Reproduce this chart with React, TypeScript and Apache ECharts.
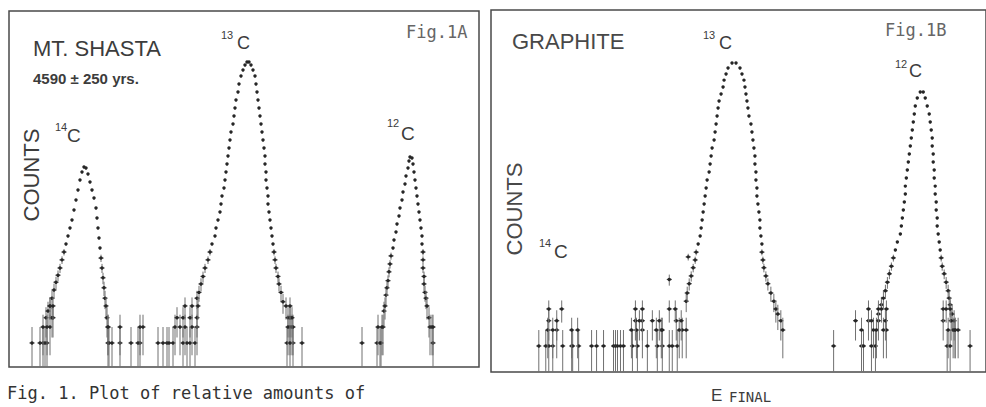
import React, { useEffect, useRef } from "react";
import * as echarts from "echarts";

// Fig. 1A  (MT. SHASTA) : [channel, counts]
const shastaC14: number[][] = [
  [37, 3], [39, 4], [41, 5], [43, 7], [45, 10], [47, 14], [49, 19], [51, 26], [53, 37], [55, 52],
  [57, 74], [59, 104], [61, 148], [63, 209], [65, 323], [67, 499], [69, 771], [71, 1190], [73, 1680], [75, 2090],
  [77, 2000], [79, 1550], [81, 1090], [83, 771], [85, 545], [87, 352], [88, 228], [89, 148], [90, 96], [91, 62],
  [92, 40], [93, 26], [94, 17], [95, 11], [96, 7], [97, 5], [98, 3], [99, 2], [100, 1],
];
const shastaC13: number[][] = [
  [188, 7], [190, 9], [192, 13], [194, 18], [196, 26], [199, 37], [201, 52], [203, 74], [206, 104], [207, 148],
  [209, 209], [211, 296], [212, 420], [213, 594], [215, 841], [216, 1190], [217, 1680], [218, 2380], [219, 3380], [220, 4780],
  [221, 6770], [222, 9570], [224, 13600], [225, 19200], [226, 27200], [227, 38500], [229, 54500], [230, 77100], [232, 109000], [234, 142000],
  [236, 176000], [238, 200000],
  [240, 200000], [242, 176000], [244, 142000], [246, 109000], [247, 77100], [248, 54500], [249, 38500], [250, 27200], [251, 19200], [252, 13600],
  [253, 9570], [254, 6770], [255, 4780], [256, 3380], [256, 2380], [257, 1680], [257, 1190], [258, 841], [259, 594], [259, 420],
  [260, 296], [261, 209], [262, 148], [263, 104], [264, 74], [265, 52], [266, 37], [267, 26], [269, 18], [270, 13],
  [272, 9], [274, 6], [277, 5], [279, 3], [281, 2],
];
const shastaC12: number[][] = [
  [372, 1], [374, 2], [375, 4], [376, 5], [377, 8], [378, 11], [379, 15], [380, 22], [381, 31], [382, 44],
  [384, 62], [385, 88], [387, 124], [388, 176], [390, 249], [391, 352], [393, 499], [394, 706], [396, 1000], [397, 1420],
  [399, 2000], [400, 2720], [401, 3240],
  [403, 3100], [404, 2380], [405, 1680], [406, 1190], [407, 841], [408, 594], [409, 420], [410, 296], [411, 209], [412, 148],
  [413, 104], [413, 74], [414, 52], [414, 37], [414, 26], [415, 18], [415, 13], [416, 9], [417, 7], [418, 5],
  [420, 3], [421, 2], [423, 2],
];
const shastaLow: number[][] = [
  [23, 1], [31, 1], [34, 1], [36, 1], [38, 1], [99, 1], [103, 1], [111, 1], [122, 1], [129, 1], [131, 1],
  [149, 1], [154, 1], [158, 1], [160, 1], [164, 1], [174, 1], [178, 1], [181, 1], [186, 1],
  [278, 1], [281, 1], [284, 1], [293, 1], [353, 1], [368, 1], [371, 1], [424, 1],
  [34, 2], [38, 2], [41, 2], [99, 2], [111, 2], [131, 2], [134, 2], [166, 2], [171, 2], [176, 2], [183, 2], [188, 2],
  [279, 2], [283, 2], [284, 2], [369, 2], [373, 2], [424, 2],
  [43, 3], [44, 3], [168, 3], [174, 3], [181, 3], [188, 3], [281, 3], [283, 3],
  [41, 5], [44, 5], [176, 5], [183, 5], [189, 5], [281, 5],
];

// Fig. 1B  (GRAPHITE) : [channel, counts]
const graphiteC13: number[][] = [
  [196, 7], [197, 10], [199, 15], [201, 21], [203, 30], [205, 42], [206, 59], [208, 84], [210, 119], [211, 168],
  [212, 238], [213, 338], [214, 478], [215, 677], [216, 958], [217, 1360], [219, 1920], [220, 2720], [221, 3850], [222, 5450],
  [224, 7710], [225, 10900], [226, 15400], [227, 21900], [228, 31000], [229, 42000], [231, 56900], [233, 77100], [234, 104000], [236, 136000],
  [238, 176000], [242, 219000],
  [246, 219000], [250, 176000], [252, 136000], [254, 104000], [255, 77100], [256, 56900], [257, 42000], [258, 31000], [259, 21900], [261, 15400],
  [262, 10900], [263, 7710], [264, 5450], [265, 3850], [265, 2720], [266, 1920], [266, 1360], [267, 958], [267, 677], [268, 478],
  [269, 338], [270, 238], [270, 168], [271, 119], [272, 84], [272, 59], [273, 42], [274, 30], [276, 21], [278, 15],
  [281, 10], [284, 7], [286, 5], [288, 4], [291, 3], [293, 2],
];
const graphiteC12: number[][] = [
  [389, 4], [392, 6], [394, 8], [396, 11], [398, 16], [400, 23], [402, 32], [404, 46], [406, 65], [408, 92],
  [411, 130], [412, 184], [413, 260], [414, 368], [415, 521], [416, 738], [416, 1040], [417, 1480], [418, 2090], [419, 2960],
  [420, 4200], [421, 5940], [422, 8400], [423, 11900], [424, 16800], [425, 23900], [426, 33800], [428, 47800], [431, 62000],
  [434, 62000], [436, 47800], [438, 33800], [440, 23900], [441, 16800], [442, 11900], [443, 8400], [443, 5940], [444, 4200], [444, 2960],
  [445, 2090], [445, 1480], [446, 1040], [446, 738], [447, 521], [447, 368], [448, 260], [448, 184], [449, 130], [450, 92],
  [451, 65], [452, 46], [453, 32], [455, 23], [457, 16], [459, 11], [460, 8], [461, 6], [463, 4], [465, 3], [466, 2],
];
const graphiteLow: number[][] = [
  [48, 1], [55, 1], [58, 1], [62, 1], [72, 1], [81, 1], [82, 1], [88, 1], [101, 1], [106, 1], [113, 1], [123, 1],
  [125, 1], [127, 1], [130, 1], [133, 1], [142, 1], [147, 1], [157, 1], [167, 1], [172, 1], [179, 1], [182, 1], [187, 1],
  [344, 1], [372, 1], [374, 1], [382, 1], [386, 1], [458, 1], [461, 1], [481, 1],
  [57, 2], [62, 2], [66, 2], [81, 2], [87, 2], [141, 2], [146, 2], [152, 2], [166, 2], [171, 2], [172, 2], [189, 2],
  [192, 2], [196, 2], [372, 2], [384, 2], [387, 2], [394, 2], [397, 2], [459, 2], [464, 2], [466, 2], [469, 2],
  [58, 3], [66, 3], [145, 3], [149, 3], [152, 3], [162, 3], [169, 3], [186, 3], [191, 3], [366, 3], [379, 3], [382, 3],
  [389, 3], [396, 3], [454, 3], [462, 3],
  [58, 5], [71, 5], [145, 5], [152, 5], [179, 5], [185, 5], [379, 5], [389, 5], [392, 5], [397, 5], [454, 5], [457, 5], [461, 5],
  [179, 18], [198, 48],
];

const yMinA = 0.352;
const yMaxA = 1.84e6;
const yMinB = 0.323;
const yMaxB = 2.19e6;

function pointSeries(data: number[][], idx: number, yMin: number) {
  return {
    type: "custom",
    xAxisIndex: idx,
    yAxisIndex: idx,
    data,
    silent: true,
    clip: true,
    encode: { x: 0, y: 1 },
    renderItem: (_params: any, api: any) => {
      const x = api.value(0);
      const n = api.value(1);
      const c = api.coord([x, n]);
      const s = Math.sqrt(n);
      const lo = api.coord([x, Math.max(n - s, yMin)]);
      const hi = api.coord([x, n + s]);
      const children: any[] = [];
      if (n < 60) {
        children.push({
          type: "line",
          shape: { x1: c[0], y1: lo[1], x2: c[0], y2: hi[1] },
          style: { stroke: "#707070", lineWidth: 1 },
        });
        children.push({
          type: "line",
          shape: { x1: c[0] - 2.5, y1: c[1], x2: c[0] + 2.5, y2: c[1] },
          style: { stroke: "#3a3a3a", lineWidth: 1.2 },
        });
      }
      children.push({
        type: "circle",
        shape: { cx: c[0], cy: c[1], r: 1.7 },
        style: { fill: "#262626" },
      });
      return { type: "group", children };
    },
  };
}

const SANS = "'Liberation Sans', Arial, sans-serif";
const MONO = "'DejaVu Sans Mono', 'Liberation Mono', monospace";

function txt(text: string, x: number, y: number, font: string, fill: string, align = "left", rotation = 0) {
  return {
    type: "text",
    x,
    y,
    rotation,
    silent: true,
    style: {
      text,
      font,
      fill,
      align,
      textAlign: align,
      verticalAlign: "middle",
      textVerticalAlign: "middle",
    },
  };
}

export default function App() {
  const ref = useRef<HTMLDivElement>(null);
  useEffect(() => {
    document.body.style.margin = "0";
    const chart = echarts.init(ref.current!, null, { renderer: "svg" });
    chart.setOption({
      animation: false,
      backgroundColor: "#ffffff",
      grid: [
        { left: 9, top: 11, width: 470, height: 356, show: true, borderColor: "#4a4a4a", borderWidth: 1.5, backgroundColor: "transparent" },
        { left: 491, top: 10, width: 497, height: 362, show: true, borderColor: "#4a4a4a", borderWidth: 1.5, backgroundColor: "transparent" },
      ],
      xAxis: [
        { gridIndex: 0, type: "value", min: 0, max: 470, show: false },
        { gridIndex: 1, type: "value", min: 0, max: 497, show: false },
      ],
      yAxis: [
        { gridIndex: 0, type: "log", logBase: 10, min: yMinA, max: yMaxA, show: false },
        { gridIndex: 1, type: "log", logBase: 10, min: yMinB, max: yMaxB, show: false },
      ],
      series: [
        pointSeries(shastaC14, 0, yMinA),
        pointSeries(shastaC13, 0, yMinA),
        pointSeries(shastaC12, 0, yMinA),
        pointSeries(shastaLow, 0, yMinA),
        pointSeries(graphiteC13, 1, yMinB),
        pointSeries(graphiteC12, 1, yMinB),
        pointSeries(graphiteLow, 1, yMinB),
      ],
      graphic: [
        // Panel A
        txt("MT. SHASTA", 33, 48, `22px ${SANS}`, "#3c3c3c"),
        txt("4590 ± 250 yrs.", 33, 78, `bold 15px ${SANS}`, "#3c3c3c"),
        txt("Fig.1A", 406, 32, `17px ${MONO}`, "#666666"),
        txt("13", 221, 35, `11px ${SANS}`, "#3c3c3c"),
        txt("C", 237, 43, `18px ${SANS}`, "#3c3c3c"),
        txt("14", 55, 127, `11px ${SANS}`, "#3c3c3c"),
        txt("C", 67, 135, `19px ${SANS}`, "#3c3c3c"),
        txt("12", 387, 123, `11px ${SANS}`, "#3c3c3c"),
        txt("C", 401, 133, `19px ${SANS}`, "#3c3c3c"),
        txt("COUNTS", 31, 175, `22px ${SANS}`, "#3c3c3c", "center", Math.PI / 2),
        // Panel B
        txt("GRAPHITE", 512, 41, `22px ${SANS}`, "#484848"),
        txt("Fig.1B", 885, 30, `17px ${MONO}`, "#666666"),
        txt("13", 703, 35, `11px ${SANS}`, "#3c3c3c"),
        txt("C", 719, 43, `18px ${SANS}`, "#3c3c3c"),
        txt("12", 895, 64, `11px ${SANS}`, "#3c3c3c"),
        txt("C", 909, 71, `18px ${SANS}`, "#3c3c3c"),
        txt("14", 539, 243, `11px ${SANS}`, "#3c3c3c"),
        txt("C", 554, 251, `19px ${SANS}`, "#3c3c3c"),
        txt("COUNTS", 514, 209, `22px ${SANS}`, "#484848", "center", Math.PI / 2),
        txt("E", 711, 395, `17px ${SANS}`, "#3c3c3c"),
        txt("FINAL", 729, 397, `14px ${MONO}`, "#3c3c3c"),
        // caption
        txt("Fig. 1. Plot of relative amounts of", 7, 393, `17px ${MONO}`, "#333333"),
      ],
    });
    return () => chart.dispose();
  }, []);
  return <div ref={ref} style={{ width: 986, height: 407 }} />;
}
